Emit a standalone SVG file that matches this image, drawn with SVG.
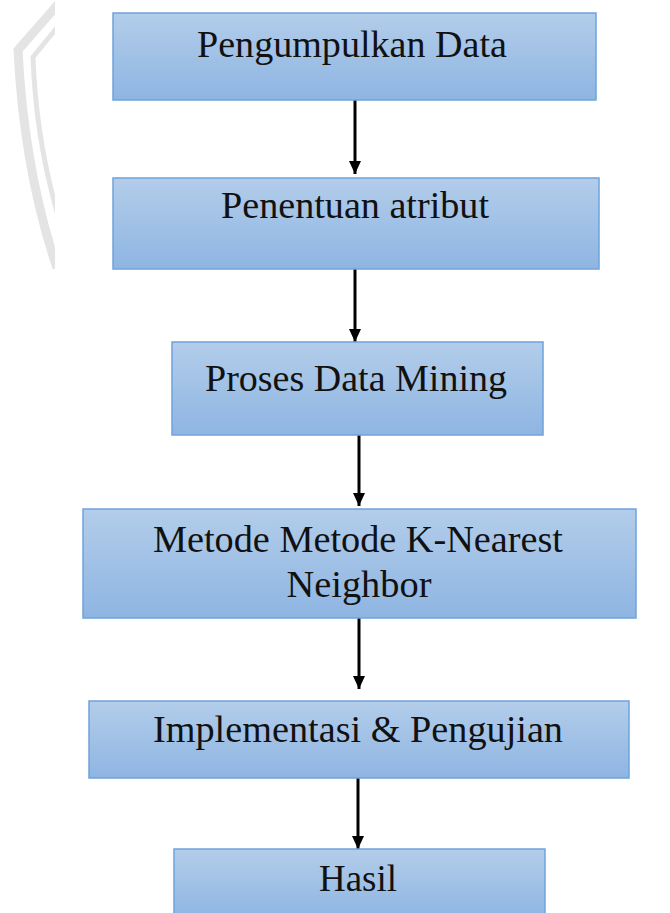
<svg xmlns="http://www.w3.org/2000/svg" width="670" height="913" viewBox="0 0 670 913">
  <style>
    .box { fill: url(#boxGrad); stroke: #6fa3dc; stroke-width: 1.5; }
    .lbl { font-family: "Liberation Serif", "Times New Roman", serif; font-size: 37px; fill: #111; text-anchor: middle; }
    .conn { stroke: #000; stroke-width: 3; fill: none; marker-end: url(#arrow); }
    .wm { fill: none; stroke: #e4e4e4; stroke-linecap: butt; }
  </style>
  <defs>
    <linearGradient id="boxGrad" x1="0" y1="0" x2="0" y2="1">
      <stop offset="0" stop-color="#b3cdea"/>
      <stop offset="1" stop-color="#8eb5e2"/>
    </linearGradient>
    <marker id="arrow" markerUnits="userSpaceOnUse" markerWidth="14" markerHeight="14" refX="13" refY="7" orient="auto">
      <path d="M0,1 L13,7 L0,13 Z" fill="#000"/>
    </marker>
    <clipPath id="wmClip"><rect x="0" y="0" width="55" height="280"/></clipPath>
  </defs>

  <rect x="0" y="0" width="670" height="913" fill="#fff"/>

  <g id="watermark" clip-path="url(#wmClip)">
    <path class="wm" stroke-width="9" d="M60,2 L18,50 Q24,170 57,268"/>
    <path class="wm" stroke-width="5" d="M60,24 L33,57 Q36,140 58,215"/>
  </g>

  <g id="connectors">
    <line class="conn" x1="355" y1="100" x2="355" y2="174"/>
    <line class="conn" x1="355" y1="269" x2="355" y2="342"/>
    <line class="conn" x1="359" y1="435" x2="359" y2="506"/>
    <line class="conn" x1="359" y1="618" x2="359" y2="689"/>
    <line class="conn" x1="358" y1="778" x2="358" y2="849"/>
  </g>

  <g id="n1">
    <rect class="box" x="113" y="13" width="483" height="87"/>
    <text class="lbl" x="352" y="57" textLength="310" lengthAdjust="spacingAndGlyphs">Pengumpulkan Data</text>
  </g>
  <g id="n2">
    <rect class="box" x="113" y="178" width="486" height="91"/>
    <text class="lbl" x="355" y="218" textLength="268" lengthAdjust="spacingAndGlyphs">Penentuan atribut</text>
  </g>
  <g id="n3">
    <rect class="box" x="172" y="342" width="371" height="93"/>
    <text class="lbl" x="356" y="391" textLength="302" lengthAdjust="spacingAndGlyphs">Proses Data Mining</text>
  </g>
  <g id="n4">
    <rect class="box" x="83" y="509" width="553" height="109"/>
    <text class="lbl" x="358" y="552" textLength="410" lengthAdjust="spacingAndGlyphs">Metode Metode K-Nearest</text>
    <text class="lbl" x="359" y="597" textLength="145" lengthAdjust="spacingAndGlyphs">Neighbor</text>
  </g>
  <g id="n5">
    <rect class="box" x="89" y="701" width="540" height="77"/>
    <text class="lbl" x="358" y="742" textLength="410" lengthAdjust="spacingAndGlyphs">Implementasi &amp; Pengujian</text>
  </g>
  <g id="n6">
    <rect class="box" x="174" y="849" width="371" height="70"/>
    <text class="lbl" x="358" y="891" textLength="78" lengthAdjust="spacingAndGlyphs">Hasil</text>
  </g>
</svg>
